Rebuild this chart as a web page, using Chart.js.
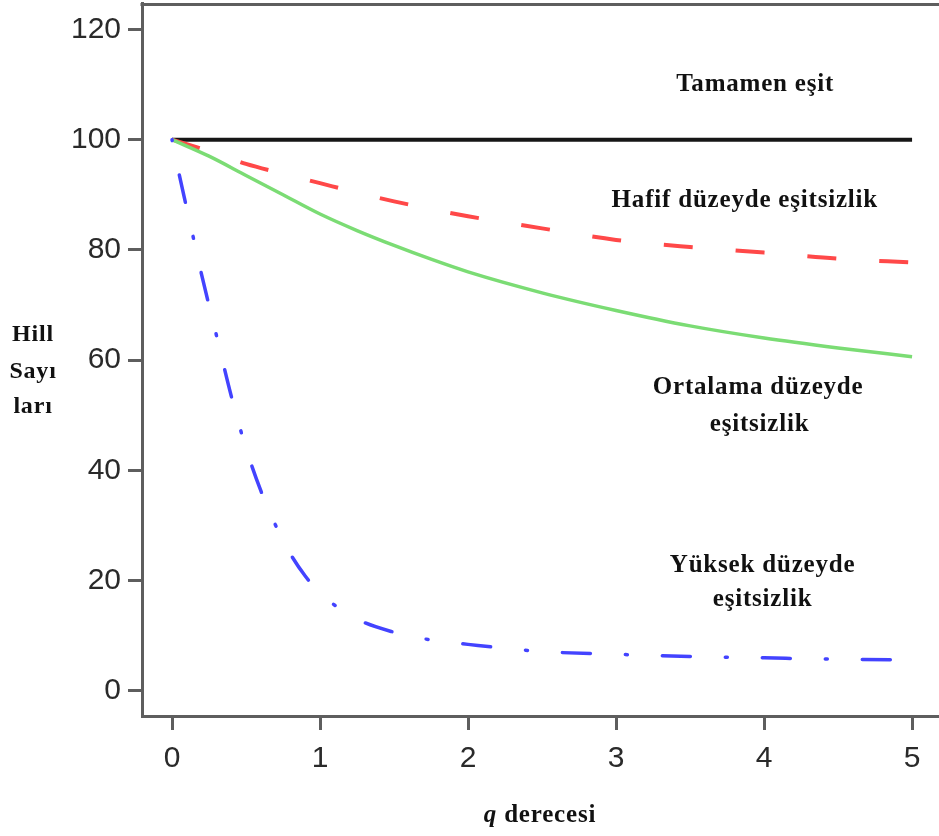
<!DOCTYPE html>
<html><head><meta charset="utf-8">
<script src="https://cdn.jsdelivr.net/npm/chart.js@4/dist/chart.umd.min.js"></script>
<style>html,body{margin:0;padding:0;background:#fff;}canvas{display:block;}</style>
</head><body>
<canvas id="c" width="939" height="836"></canvas>
<script>
// ---- data ----
const qGrid = [0, 0.25, 0.5, 0.75, 1, 1.25, 1.5, 1.75, 2, 2.5, 3, 3.5, 4, 4.5, 5];
const tamamenEsit = [100, 100, 100, 100, 100, 100, 100, 100, 100, 100, 100, 100, 100, 100, 100];
const hafifEsitsizlik = [100, 97.9, 95.6, 93.8, 92.1, 90.4, 88.8, 87.4, 86.1, 83.9, 81.8, 80.5, 79.5, 78.4, 77.7];
const ortalamaEsitsizlik = [100, 97, 93.5, 90, 86.5, 83.5, 80.8, 78.3, 76, 72.2, 69, 66.2, 64, 62.2, 60.6];
const qBlue = [0, 0.05, 0.1, 0.15, 0.2, 0.3, 0.4, 0.5, 0.6, 0.7, 0.8, 0.9, 1, 1.25, 1.5, 1.75, 2, 2.5, 3, 3.5, 4, 4.5, 5];
const yuksekEsitsizlik = [100, 93.5, 87.5, 81.5, 75.5, 64.5, 53.5, 44, 36.3, 30, 24.8, 20.8, 17.7, 13, 10.6, 9.2, 8.4, 7.1, 6.6, 6.2, 5.95, 5.7, 5.6];
const xTicks = [0, 1, 2, 3, 4, 5];
const yTicks = [0, 20, 40, 60, 80, 100, 120];
const yTitleLines = ['Hill', 'Sayı', 'ları'];
const xTitleParts = ['q', ' derecesi'];
const noteTexts = ['Tamamen eşit', 'Hafif düzeyde eşitsizlik', 'Ortalama düzeyde', 'eşitsizlik', 'Yüksek düzeyde', 'eşitsizlik'];
// annotation anchors (data coords) - layout only
const noteQ = [3.94, 3.87, 3.96, 3.97, 3.99, 3.99];
const noteV = [110.0, 89.0, 55.0, 48.3, 22.7, 16.5];

const pts = (xs, ys) => xs.map((x, i) => ({x: x, y: ys[i]}));
const AXIS = '#5e5e5e';
const SERIF = '"Liberation Serif", "DejaVu Serif", serif';
const SANS = '"Liberation Sans", Arial, sans-serif';

const decor = {
  id: 'decor',
  beforeDatasetsDraw(chart) {
    const {ctx, chartArea: a} = chart;
    ctx.save();
    ctx.strokeStyle = AXIS; ctx.lineWidth = 3;
    ctx.beginPath(); ctx.moveTo(a.left - 1.5, a.top + 1.5); ctx.lineTo(a.right + 5, a.top + 1.5); ctx.stroke();
    ctx.restore();
  },
  afterDraw(chart) {
    const {ctx, scales} = chart;
    ctx.save();
    ctx.fillStyle = '#111';
    ctx.textAlign = 'center'; ctx.textBaseline = 'middle';
    ctx.font = 'bold 25px ' + SERIF;
    try { ctx.letterSpacing = '0.8px'; } catch (e) {}
    noteTexts.forEach((t, i) => {
      ctx.fillText(t, scales.x.getPixelForValue(noteQ[i]), scales.y.getPixelForValue(noteV[i]));
    });
    // y title
    ctx.font = 'bold 24px ' + SERIF;
    const yPos = [335, 372, 407];
    yTitleLines.forEach((t, i) => ctx.fillText(t, 33, yPos[i]));
    // x title
    ctx.textAlign = 'left';
    const f1 = 'italic bold 25px ' + SERIF, f2 = 'bold 25px ' + SERIF;
    ctx.font = f1; const w1 = ctx.measureText(xTitleParts[0]).width;
    ctx.font = f2; const w2 = ctx.measureText(xTitleParts[1]).width;
    let x0 = 540 - (w1 + w2) / 2;
    ctx.font = f1; ctx.fillText(xTitleParts[0], x0, 816);
    ctx.font = f2; ctx.fillText(xTitleParts[1], x0 + w1, 816);
    ctx.restore();
  }
};

const common = {pointRadius: 0, pointHoverRadius: 0, fill: false, cubicInterpolationMode: 'monotone'};

new Chart(document.getElementById('c'), {
  type: 'line',
  data: {
    datasets: [
      Object.assign({label: 'Yüksek düzeyde eşitsizlik', data: pts(qBlue, yuksekEsitsizlik), borderColor: '#4343ff', borderWidth: 3.5, borderDash: [28, 35, 2, 35], borderDashOffset: 64, borderCapStyle: 'round'}, common),
      Object.assign({label: 'Ortalama düzeyde eşitsizlik', data: pts(qGrid, ortalamaEsitsizlik), borderColor: '#7bdc74', borderWidth: 3.5}, common),
      Object.assign({label: 'Hafif düzeyde eşitsizlik', data: pts(qGrid, hafifEsitsizlik), borderColor: '#ff4848', borderWidth: 4, borderDash: [29, 43]}, common),
      Object.assign({label: 'Tamamen eşit', data: pts(qGrid, tamamenEsit), borderColor: '#161616', borderWidth: 4}, common)
    ]
  },
  options: {
    responsive: false,
    animation: false,
    layout: {padding: {top: 3, right: 0, left: 0, bottom: 0}},
    plugins: {legend: {display: false}, tooltip: {enabled: false}, title: {display: false}},
    scales: {
      x: {
        type: 'linear', min: -0.2027, max: 5.182,
        afterBuildTicks: s => { s.ticks = xTicks.map(v => ({value: v})); },
        afterFit: s => { s.height = 120; s.paddingLeft = 0; s.paddingRight = 0; },
        grid: {drawOnChartArea: false, drawTicks: true, tickLength: 14, tickColor: AXIS, tickWidth: 3},
        border: {display: true, color: AXIS, width: 3},
        ticks: {autoSkip: false, maxRotation: 0, padding: 11, color: '#2a2a2a', font: {family: SANS, size: 30}}
      },
      y: {
        type: 'linear', min: -4.6, max: 124.8,
        afterBuildTicks: s => { s.ticks = yTicks.map(v => ({value: v})); },
        afterFit: s => { s.width = 142; s.paddingTop = 0; s.paddingBottom = 0; },
        grid: {drawOnChartArea: false, drawTicks: true, tickLength: 14, tickColor: AXIS, tickWidth: 3},
        border: {display: true, color: AXIS, width: 3},
        ticks: {autoSkip: false, padding: 7, color: '#2a2a2a', font: {family: SANS, size: 30}}
      }
    }
  },
  plugins: [decor]
});
</script>
</body></html>
